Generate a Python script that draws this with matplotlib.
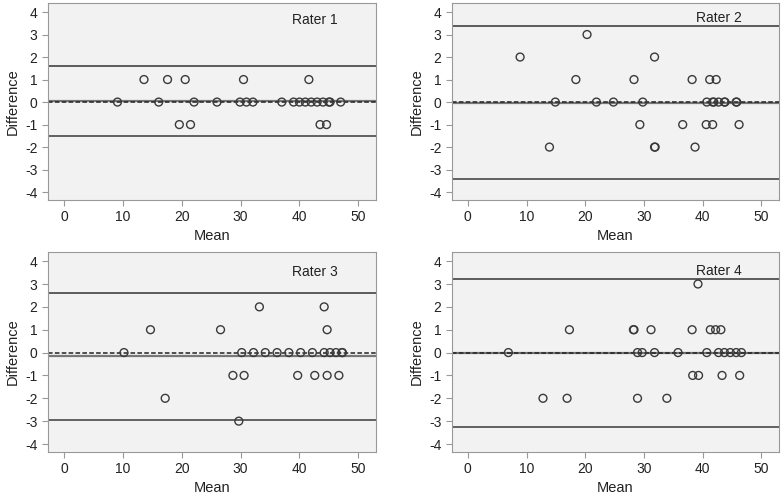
import matplotlib
matplotlib.use('Agg')
import matplotlib.pyplot as plt
import matplotlib.font_manager as fm

# Pick a narrow font if one is around, otherwise fall back to Liberation Sans.
names = {f.name for f in fm.fontManager.ttflist}
family = ['Liberation Sans Narrow'] if 'Liberation Sans Narrow' in names else ['Liberation Sans']
plt.rcParams['font.family'] = family + ['DejaVu Sans']
plt.rcParams['axes.unicode_minus'] = False

# Bland-Altman data: (mean, difference) per rater.
rater1_mean = [13.6, 17.6, 20.6, 30.5, 41.6,
               9.1, 16.1, 22.1, 26.0, 29.9, 31.0, 32.1, 37.0, 39.0, 40.0, 41.0,
               42.0, 43.0, 44.0, 45.0, 45.2, 47.0,
               19.6, 21.5, 43.5, 44.6]
rater1_diff = [1] * 5 + [0] * 17 + [-1] * 4

rater2_mean = [20.3,
               8.9, 31.8,
               18.4, 28.3, 38.2, 41.2, 42.3,
               14.9, 21.9, 24.8, 29.8, 40.7, 41.7, 41.9, 42.7, 43.7, 43.8, 45.7, 45.8,
               29.3, 36.6, 40.6, 41.7, 46.2,
               13.9, 31.8, 31.9, 38.7]
rater2_diff = [3] + [2] * 2 + [1] * 5 + [0] * 12 + [-1] * 5 + [-2] * 4

rater3_mean = [33.2, 44.2,
               14.7, 26.6, 44.7,
               10.2, 30.2, 32.2, 34.2, 36.2, 38.2, 40.2, 42.2, 44.2, 45.2, 46.2, 47.2, 47.3,
               28.7, 30.6, 39.7, 42.6, 44.7, 46.7,
               17.2,
               29.7]
rater3_diff = [2] * 2 + [1] * 3 + [0] * 13 + [-1] * 6 + [-2] + [-3]

rater4_mean = [39.2,
               17.3, 28.2, 28.3, 31.2, 38.2, 41.3, 42.2, 43.1,
               6.9, 28.9, 29.7, 31.8, 35.8, 40.7, 42.7, 43.7, 44.7, 45.7, 46.6,
               38.3, 39.3, 43.3, 46.3,
               12.8, 16.9, 28.9, 33.9]
rater4_diff = [3] + [1] * 8 + [0] * 11 + [-1] * 4 + [-2] * 4

# mean difference and limits of agreement
rater_bias = [0.05, -0.02, -0.17, -0.02]
rater_upper = [1.6, 3.38, 2.62, 3.23]
rater_lower = [-1.5, -3.41, -2.96, -3.24]
rater_titles = ['Rater 1', 'Rater 2', 'Rater 3', 'Rater 4']
x_ticks = [0, 10, 20, 30, 40, 50]
y_ticks = [-4, -3, -2, -1, 0, 1, 2, 3, 4]

fig = plt.figure(figsize=(7.82, 4.94), dpi=100)
W, H = 782.0, 494.0

# axes boxes in pixels: left, top, right, bottom
boxes = [(48, 3, 376, 200), (452, 3, 779, 200),
         (48, 252, 376, 452), (452, 252, 779, 452)]
text_x = [315, 719, 315, 719]
text_y = [20, 17.5, 272, 271]

means = [rater1_mean, rater2_mean, rater3_mean, rater4_mean]
diffs = [rater1_diff, rater2_diff, rater3_diff, rater4_diff]

for i in range(4):
    l, t, r, b = boxes[i]
    ax = fig.add_axes([l / W, 1 - b / H, (r - l) / W, (b - t) / H])
    ax.set_facecolor('#f2f2f2')

    ax.axhline(rater_upper[i], color='#333333', lw=1.1)
    ax.axhline(rater_lower[i], color='#555555', lw=1.3)
    ax.axhline(rater_bias[i], color='#777777', lw=1.6)
    ax.axhline(0, color='#222222', lw=1.1, ls=(0, (3, 1.5)))

    ax.scatter(means[i], diffs[i], s=32, facecolors='none',
               edgecolors='#3a3a3a', linewidths=1.0, zorder=3)

    ax.set_xlim(-2.7, 53)
    ax.set_ylim(-4.35, 4.4)
    ax.set_xticks(x_ticks)
    ax.set_yticks(y_ticks)
    ax.tick_params(colors='#999999', labelcolor='#222222', labelsize=10,
                   length=4, width=0.8)
    for s in ax.spines.values():
        s.set_color('#999999')
        s.set_linewidth(0.8)

    ax.set_xlabel('Mean', fontsize=10.5, color='#222222', labelpad=3)
    ax.set_ylabel('Difference', fontsize=10.5, color='#222222', labelpad=4)

    fig.text(text_x[i] / W, 1 - text_y[i] / H, rater_titles[i],
             ha='center', va='center', fontsize=10, color='#222222')

fig.savefig('out.png', dpi=100)
